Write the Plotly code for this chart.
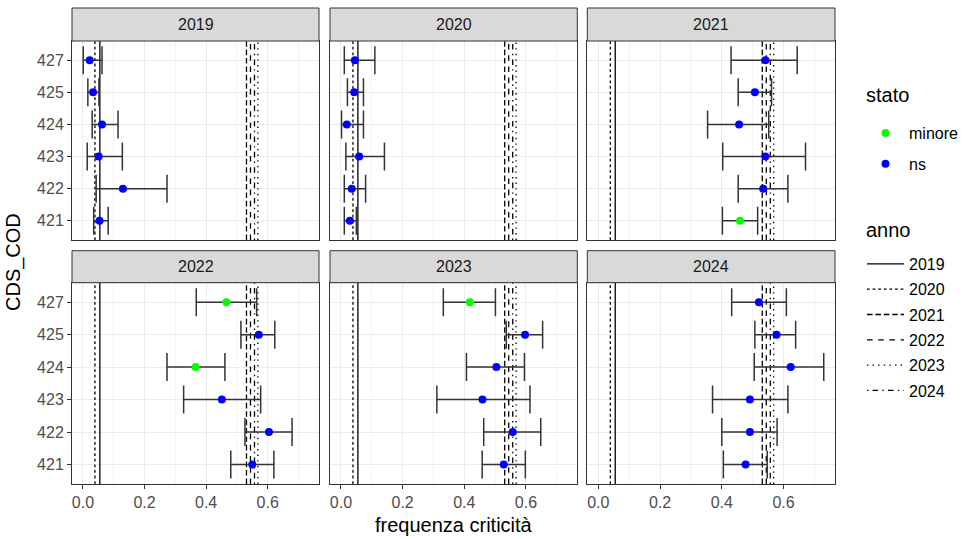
import plotly.graph_objects as go

# Corsi di studio (asse y, dal basso verso l'alto) e anni (pannelli)
cds = ["421", "422", "423", "424", "425", "427"]
anni = ["2019", "2020", "2021", "2022", "2023", "2024"]

# Frequenza di criticità per anno: stima, limite inferiore e superiore dell'intervallo, stato
est_2019 = [0.054, 0.130, 0.051, 0.062, 0.033, 0.022]
lo_2019 = [0.035, 0.043, 0.014, 0.030, 0.016, 0.001]
hi_2019 = [0.082, 0.273, 0.128, 0.114, 0.052, 0.062]
stato_2019 = ["ns", "ns", "ns", "ns", "ns", "ns"]

est_2020 = [0.029, 0.035, 0.059, 0.019, 0.043, 0.045]
lo_2020 = [0.011, 0.011, 0.016, 0.002, 0.021, 0.011]
hi_2020 = [0.050, 0.080, 0.141, 0.073, 0.073, 0.110]
stato_2020 = ["ns", "ns", "ns", "ns", "ns", "ns"]

est_2021 = [0.459, 0.534, 0.541, 0.456, 0.507, 0.541]
lo_2021 = [0.402, 0.453, 0.403, 0.354, 0.453, 0.430]
hi_2021 = [0.516, 0.614, 0.671, 0.552, 0.561, 0.644]
stato_2021 = ["minore", "ns", "ns", "ns", "ns", "ns"]

est_2022 = [0.550, 0.604, 0.451, 0.366, 0.571, 0.466]
lo_2022 = [0.480, 0.526, 0.327, 0.273, 0.513, 0.368]
hi_2022 = [0.620, 0.679, 0.577, 0.461, 0.623, 0.564]
stato_2022 = ["ns", "ns", "ns", "minore", "ns", "minore"]

est_2023 = [0.528, 0.557, 0.459, 0.504, 0.597, 0.418]
lo_2023 = [0.458, 0.463, 0.311, 0.407, 0.536, 0.332]
hi_2023 = [0.598, 0.648, 0.613, 0.595, 0.654, 0.501]
stato_2023 = ["ns", "ns", "ns", "ns", "ns", "minore"]

est_2024 = [0.477, 0.491, 0.491, 0.623, 0.577, 0.520]
lo_2024 = [0.405, 0.400, 0.370, 0.505, 0.507, 0.432]
hi_2024 = [0.547, 0.579, 0.614, 0.730, 0.639, 0.609]
stato_2024 = ["ns", "ns", "ns", "ns", "ns", "ns"]

# Frequenza complessiva di ciascun anno (linee verticali di riferimento)
media_anno = [0.055, 0.039, 0.531, 0.544, 0.568, 0.557]

pannelli = {
    "2019": (est_2019, lo_2019, hi_2019, stato_2019),
    "2020": (est_2020, lo_2020, hi_2020, stato_2020),
    "2021": (est_2021, lo_2021, hi_2021, stato_2021),
    "2022": (est_2022, lo_2022, hi_2022, stato_2022),
    "2023": (est_2023, lo_2023, hi_2023, stato_2023),
    "2024": (est_2024, lo_2024, hi_2024, stato_2024),
}

colori_stato = {"minore": "#00FF00", "ns": "#0000FF"}
tratti_anno = ["solid", "2.8px,2.8px", "5.6px,2.8px", "5.6px,5.6px",
               "1.4px,4.2px", "1.4px,4.2px,5.6px,4.2px"]

FONT = "Liberation Sans, Arial, sans-serif"
W, H = 964, 539

# geometria dei pannelli in pixel
col_px = [(72, 319), (330, 577.3), (587.3, 835)]
row_px = [(41, 240), (282.7, 484)]      # area del grafico
strip_px = [(8, 41), (250.7, 282.7)]    # intestazione del pannello

# intervallo x comune con espansione del 5%
xmin = min(min(v[1]) for v in pannelli.values())
xmax = max(max(v[2]) for v in pannelli.values())
span = xmax - xmin
xrange = [xmin - 0.05 * span, xmax + 0.05 * span]
yrange = [0.4, len(cds) + 0.6]
ypos = list(range(1, len(cds) + 1))

fig = go.Figure()
layout = dict(
    width=W, height=H, margin=dict(l=0, r=0, t=0, b=0),
    paper_bgcolor="white", plot_bgcolor="white",
    font=dict(family=FONT, size=16, color="#1A1A1A"),
    showlegend=True,
)
shapes = []
annotations = []

legend_done = set()
for i, anno in enumerate(anni):
    r, c = divmod(i, 3)
    ax = "" if i == 0 else str(i + 1)
    xa, ya = "x" + ax, "y" + ax
    x0p, x1p = col_px[c]
    y0p, y1p = row_px[r]

    layout["xaxis" + ax] = dict(
        domain=[x0p / W, x1p / W], anchor=ya, range=xrange,
        tickvals=[0, 0.2, 0.4, 0.6], ticktext=["0.0", "0.2", "0.4", "0.6"],
        showticklabels=(r == 1), ticks="outside" if r == 1 else "",
        ticklen=4, tickwidth=1, tickcolor="#333333",
        tickfont=dict(family=FONT, size=16, color="#4D4D4D"),
        showgrid=True, gridcolor="#EBEBEB", gridwidth=1.2,
        minor=dict(tickvals=[0.1, 0.3, 0.5, 0.7], showgrid=True,
                   gridcolor="#F2F2F2", gridwidth=0.6),
        zeroline=False, showline=True, mirror=True,
        linecolor="#333333", linewidth=1,
    )
    layout["yaxis" + ax] = dict(
        domain=[1 - y1p / H, 1 - y0p / H], anchor=xa, range=yrange,
        tickvals=ypos, ticktext=cds,
        showticklabels=(c == 0), ticks="outside" if c == 0 else "",
        ticklen=4, tickwidth=1, tickcolor="#333333",
        tickfont=dict(family=FONT, size=16, color="#4D4D4D"),
        showgrid=True, gridcolor="#EBEBEB", gridwidth=1.2,
        zeroline=False, showline=True, mirror=True,
        linecolor="#333333", linewidth=1,
    )

    # intestazione del pannello
    s0, s1 = strip_px[r]
    shapes.append(dict(type="rect", xref="paper", yref="paper",
                       x0=x0p / W, x1=x1p / W, y0=1 - s1 / H, y1=1 - s0 / H,
                       fillcolor="#D9D9D9", line=dict(color="#333333", width=1)))
    annotations.append(dict(text=anno, xref="paper", yref="paper",
                            x=(x0p + x1p) / 2 / W, y=1 - (s0 + s1) / 2 / H,
                            showarrow=False, xanchor="center", yanchor="middle",
                            font=dict(family=FONT, size=16, color="#1A1A1A")))

    # linee verticali della frequenza complessiva per anno
    for j, (a, v) in enumerate(zip(anni, media_anno)):
        fig.add_trace(go.Scatter(
            x=[v, v], y=yrange, mode="lines", xaxis=xa, yaxis=ya,
            line=dict(color="black", width=1.3, dash=tratti_anno[j]),
            name=a, legend="legend2", legendgroup="anno" + a,
            legendrank=j + 1, showlegend=(i == 0), hoverinfo="skip",
        ))

    # stime con intervalli
    est, lo, hi, st = pannelli[anno]
    for s in ["minore", "ns"]:
        idx = [k for k in range(len(cds)) if st[k] == s]
        if not idx:
            continue
        fig.add_trace(go.Scatter(
            x=[est[k] for k in idx], y=[ypos[k] for k in idx],
            mode="markers", xaxis=xa, yaxis=ya,
            marker=dict(color=colori_stato[s], size=8),
            error_x=dict(type="data", symmetric=False,
                         array=[hi[k] - est[k] for k in idx],
                         arrayminus=[est[k] - lo[k] for k in idx],
                         color="#333333", thickness=1.5, width=14),
            name=s, legend="legend", legendgroup="stato" + s,
            legendrank=1 if s == "minore" else 2,
            showlegend=(s not in legend_done),
        ))
        legend_done.add(s)

# titoli degli assi
annotations.append(dict(text="frequenza criticità", xref="paper", yref="paper",
                        x=(72 + 835) / 2 / W, y=1 - 525 / H, showarrow=False,
                        xanchor="center", yanchor="middle",
                        font=dict(family=FONT, size=20, color="black")))
annotations.append(dict(text="CDS_COD", xref="paper", yref="paper",
                        x=13 / W, y=1 - 262 / H, showarrow=False, textangle=-90,
                        xanchor="center", yanchor="middle",
                        font=dict(family=FONT, size=20, color="black")))

# titoli delle legende
for titolo, ypx in [("stato", 95), ("anno", 230)]:
    annotations.append(dict(text=titolo, xref="paper", yref="paper",
                            x=864 / W, y=1 - ypx / H, showarrow=False,
                            xanchor="left", yanchor="middle",
                            font=dict(family=FONT, size=20, color="black")))

layout["shapes"] = shapes
layout["annotations"] = annotations
layout["legend"] = dict(
    x=862 / W, y=1 - 116 / H, xanchor="left", yanchor="top",
    font=dict(family=FONT, size=16, color="black"), bgcolor="rgba(0,0,0,0)",
    traceorder="grouped", tracegroupgap=7, itemwidth=37, itemclick=False,
)
layout["legend2"] = dict(
    x=862 / W, y=1 - 247 / H, xanchor="left", yanchor="top",
    font=dict(family=FONT, size=16, color="black"), bgcolor="rgba(0,0,0,0)",
    traceorder="grouped", tracegroupgap=1.5, itemwidth=37, itemclick=False,
)

fig.update_layout(**layout)
fig.write_html("out.html")
